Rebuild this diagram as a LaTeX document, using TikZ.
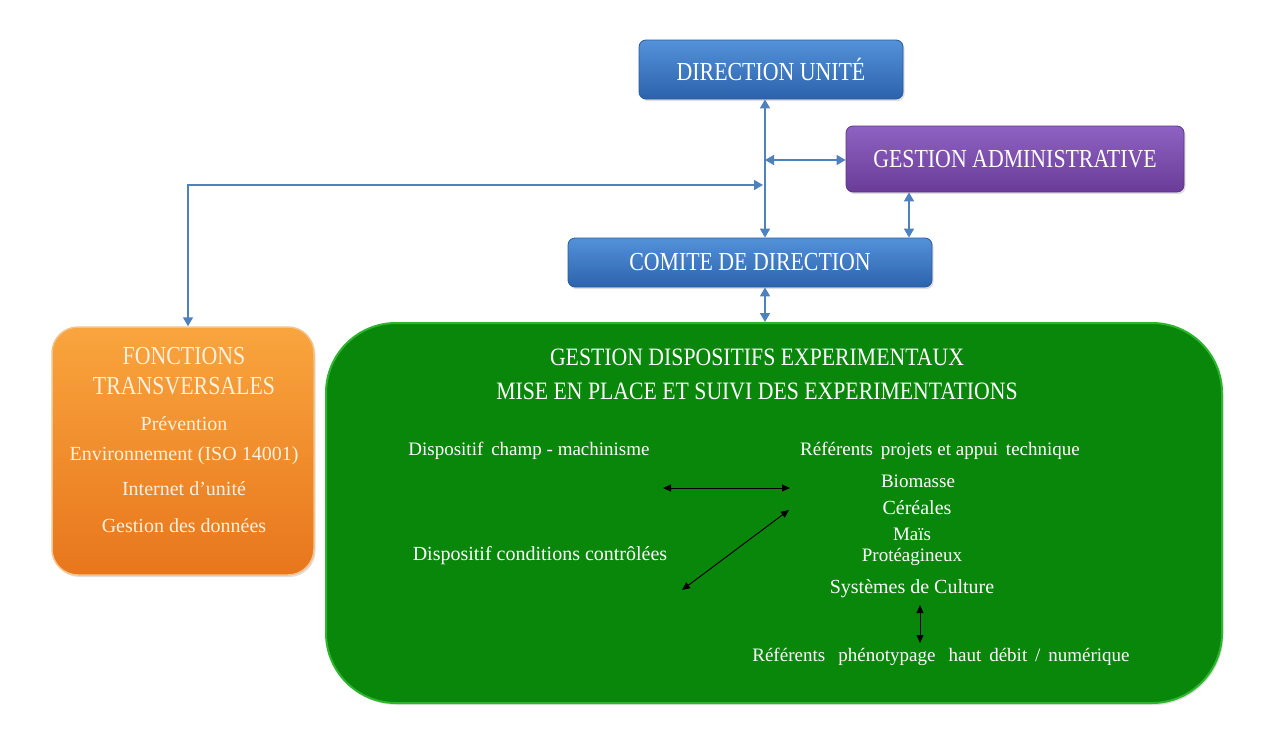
\documentclass[tikz,border=0pt]{standalone}
\usepackage{fontspec}
\setmainfont{Liberation Serif}
\newfontfamily\cond[FakeStretch=0.84]{Liberation Serif}
\newfontfamily\condt[FakeStretch=0.87]{Liberation Serif}
\usetikzlibrary{arrows.meta,shadows,calc}
\definecolor{bluetop}{HTML}{5392DA}
\definecolor{bluebot}{HTML}{2C62AC}
\definecolor{blueedge}{HTML}{2A5A9A}
\definecolor{purptop}{HTML}{8E62C2}
\definecolor{purpbot}{HTML}{6A3C98}
\definecolor{purpedge}{HTML}{5E3588}
\definecolor{ortop}{HTML}{F9A53E}
\definecolor{orbot}{HTML}{E8761C}
\definecolor{oredge}{HTML}{F2C48A}
\definecolor{greenfill}{HTML}{08870A}
\definecolor{greenedge}{HTML}{2DB52D}
\definecolor{conn}{HTML}{4F81BD}
\definecolor{ortext}{HTML}{FDF1DE}
\tikzset{
  x=1pt,y=-1pt,
  bluebox/.style={rounded corners=7pt,top color=bluetop,bottom color=bluebot,draw=blueedge,line width=0.8pt,
    text=white,font=\cond\fontsize{26}{30}\selectfont,drop shadow={opacity=0.25,shadow xshift=1.5pt,shadow yshift=-2pt}},
  purpbox/.style={bluebox,top color=purptop,bottom color=purpbot,draw=purpedge},
  orbox/.style={rounded corners=26pt,top color=ortop,bottom color=orbot,draw=oredge,line width=1.5pt,
    drop shadow={opacity=0.25,shadow xshift=1.5pt,shadow yshift=-2pt}},
  greenbox/.style={rounded corners=70pt,fill=greenfill,draw=greenedge,line width=2pt,
    drop shadow={opacity=0.25,shadow xshift=1.5pt,shadow yshift=-2pt}},
  bconn/.style={draw=conn,line width=1.5pt,{Triangle[width=10pt,length=9pt]}-{Triangle[width=10pt,length=9pt]}},
  kconn/.style={draw=black,line width=1pt,{Triangle[width=7pt,length=8pt]}-{Triangle[width=7pt,length=8pt]}},
  ttl/.style={text=white,font=\condt\fontsize{25}{34}\selectfont,align=center},
  otl/.style={text=ortext,font=\cond\fontsize{26}{30}\selectfont},
  oit/.style={text=ortext,font=\fontsize{20}{22}\selectfont},
  git/.style={text=white,font=\fontsize{19}{21}\selectfont},
  gbt/.style={text=white,font=\fontsize{20}{23}\selectfont},
}
\begin{document}
\begin{tikzpicture}
\useasboundingbox[fill=white] (0,0) rectangle (1285,747);
% boxes
\node[bluebox,minimum width=264pt,minimum height=59pt] (du) at (771,69.5) {DIRECTION UNITÉ};
\node[purpbox,minimum width=338pt,minimum height=66pt] (ga) at (1015,159) {GESTION ADMINISTRATIVE};
\node[bluebox,minimum width=364pt,minimum height=49pt] (cd) at (750,262.5) {COMITE DE DIRECTION};
\node[orbox,minimum width=262pt,minimum height=248pt] (fct) at (183,451) {};
\node[greenbox,minimum width=896pt,minimum height=380pt] (gd) at (774,513) {};
% connector guide coordinates
\coordinate (v) at (765,0);
\coordinate (fx) at (188,185);
\coordinate (gax) at (909,0);
\coordinate (gay) at (0,160);
% blue connectors
\draw[bconn] (du.south -| v) -- (cd.north -| v);
\draw[bconn] (ga.west |- gay) -- (gay -| v);
\draw[bconn] (fct.north -| fx) -- (fx) -- ($(fx -| v)+(-2,0)$);
\draw[bconn] (ga.south -| gax) -- (cd.north -| gax);
\draw[bconn] (cd.south -| v) -- (gd.north -| v);
% orange texts
\node[otl] (f1) at (184,356) {FONCTIONS};
\node[otl] (f2) at (184,386) {TRANSVERSALES};
\node[oit] (f3) at (184,424) {Prévention};
\node[oit] (f4) at (184,456) {Environnement (ISO 14001)};
\node[oit] (f5) at (184,489) {Internet d’unité};
\node[oit] (f6) at (184,526) {Gestion des données};
% green texts
\node[ttl] (g0) at (757,374) {GESTION DISPOSITIFS EXPERIMENTAUX\\MISE EN PLACE ET SUIVI DES EXPERIMENTATIONS};
\node[git] (g1) at (529,451) {Dispositif\, champ - machinisme};
\node[gbt] (g2) at (540,556) {Dispositif conditions contrôlées};
\node[git] (r0) at (940,451) {Référents\, projets et appui\, technique};
\node[git] (r1) at (918,481) {Biomasse};
\node[gbt] (r2) at (917,508) {Céréales};
\node[git] (r3) at (912,534) {Maïs};
\node[git] (r4) at (912,557) {Protéagineux};
\node[gbt] (r5) at (912,589) {Systèmes de Culture};
\node[git] (r6) at (941,657) {Référents\;\, phénotypage\;\, haut\, débit\, /\, numérique};
% black connectors
\coordinate (ka) at (663,488);
\coordinate (kb) at (790,488);
\coordinate (kc) at (682,590);
\coordinate (kd) at (789,510);
\coordinate (ke) at (920,605);
\coordinate (kf) at (920,643);
\draw[kconn] (ka) -- (kb);
\draw[kconn] (kc) -- (kd);
\draw[kconn] (ke) -- (kf);
\end{tikzpicture}
\end{document}
